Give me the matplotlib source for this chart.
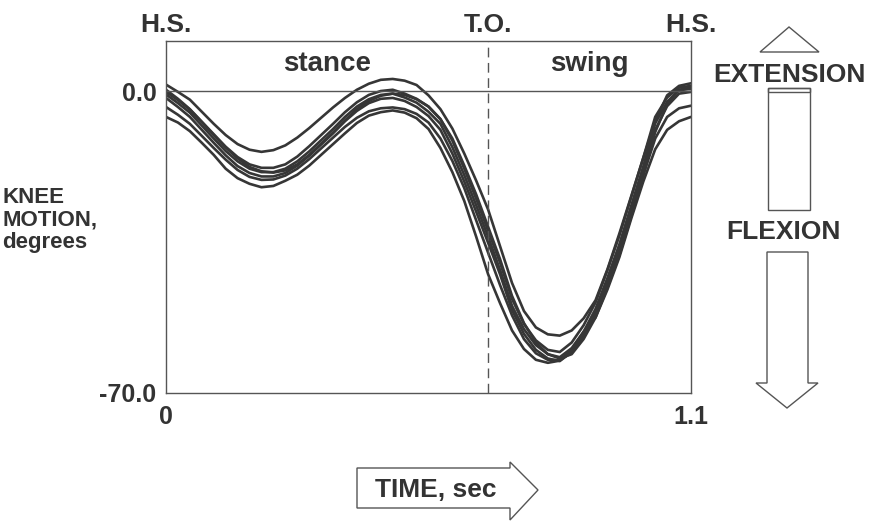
import numpy as np
import matplotlib
matplotlib.use("Agg")
import matplotlib.pyplot as plt
from matplotlib.patches import Polygon, Rectangle

plt.rcParams['font.family'] = ['Liberation Sans', 'DejaVu Sans']

# knee angle (degrees) sampled every 0.025 s over one gait cycle
time = [round(0.025 * i, 3) for i in range(45)]

trial_a = [1.5, -0.2, -2.0, -4.8, -7.6, -10.2, -12.3, -13.6, -14.1, -13.7, -12.6, -10.8,
           -8.6, -6.2, -3.8, -1.6, 0.3, 1.7, 2.6, 2.8, 2.4, 1.4, -1.0, -4.2, -8.7, -14.5,
           -20.8, -27.5, -36.0, -44.5, -51.0, -54.8, -56.4, -56.7, -55.5, -52.7, -48.5,
           -41.3, -33.0, -24.3, -15.5, -7.0, -1.0, 1.2, 1.8]
trial_b = [-6.0, -7.3, -9.3, -12.0, -14.8, -18.0, -20.2, -21.5, -22.3, -22.0, -20.8, -19.4,
           -17.3, -14.8, -12.3, -9.8, -7.4, -5.7, -4.9, -4.5, -5.0, -6.3, -8.8, -13.2, -18.8,
           -25.5, -33.8, -42.5, -49.2, -55.5, -59.8, -62.3, -63.0, -62.5, -60.0, -55.8,
           -52.5, -46.0, -38.5, -29.5, -21.0, -13.5, -9.0, -7.0, -6.0]
trial_c = [-3.7, -5.5, -7.6, -10.4, -13.2, -15.9, -18.3, -19.9, -20.6, -20.5, -19.6, -18.0,
           -15.8, -13.3, -10.8, -8.3, -6.2, -4.7, -4.0, -3.8, -4.2, -5.3, -7.3, -11.0, -16.2,
           -22.5, -30.0, -37.5, -45.0, -52.0, -57.5, -60.8, -62.3, -62.4, -60.6, -56.8,
           -51.8, -45.0, -37.3, -28.5, -19.5, -11.0, -6.0, -4.0, -3.4]
trial_d = [0.3, -1.8, -4.2, -7.1, -10.0, -12.9, -15.3, -17.0, -17.8, -17.8, -17.0, -15.2,
           -12.8, -10.2, -7.6, -4.9, -2.6, -0.9, 0.0, 0.3, -0.6, -1.8, -3.6, -6.5, -11.5,
           -18.0, -25.0, -32.4, -39.8, -48.2, -54.0, -57.8, -60.0, -60.5, -58.3, -54.3,
           -49.0, -41.5, -33.5, -24.5, -15.5, -6.0, -1.5, 0.8, 1.2]
trial_e = [-0.8, -2.8, -5.0, -8.0, -11.0, -13.9, -16.3, -18.0, -18.8, -18.8, -18.0, -16.3,
           -14.0, -11.4, -8.8, -6.0, -3.6, -1.9, -0.9, -0.6, -1.5, -2.7, -4.8, -7.6, -13.0,
           -19.5, -26.5, -33.8, -41.5, -49.8, -55.2, -58.9, -61.0, -61.7, -59.6, -55.8,
           -50.5, -43.3, -35.5, -26.5, -17.5, -7.5, -2.5, 0.2, 0.5]
trial_f = [-1.6, -3.7, -6.0, -9.0, -12.0, -14.9, -17.4, -19.0, -19.8, -19.8, -19.0, -17.3,
           -15.0, -12.4, -9.8, -7.0, -4.6, -2.8, -1.8, -1.6, -2.3, -3.7, -5.8, -9.0, -14.5,
           -21.0, -28.0, -35.2, -42.5, -50.8, -56.3, -60.0, -62.0, -62.6, -60.5, -56.7,
           -51.5, -44.5, -36.8, -28.0, -19.0, -9.0, -3.5, -0.6, -0.2]
trial_g = [-0.2, -2.1, -4.3, -7.2, -10.2, -13.1, -15.6, -17.6, -18.6, -18.9, -18.4, -17.0,
           -14.8, -12.2, -9.6, -6.8, -4.2, -2.3, -1.1, -0.6, -0.9, -1.9, -3.6, -6.5, -11.0,
           -17.3, -24.0, -31.5, -39.0, -47.5, -53.8, -58.3, -61.0, -62.0, -61.0, -57.5,
           -52.5, -45.5, -38.0, -29.0, -19.5, -9.5, -3.0, 0.3, 0.8]
trials = [trial_a, trial_b, trial_c, trial_d, trial_e, trial_f, trial_g]

toe_off = 0.674
cycle_end = 1.1

W, H = 877, 525
ink = '#333333'
edge = '#555555'

fig = plt.figure(figsize=(W / 100, H / 100), dpi=100)
ax = fig.add_axes([166 / W, 1 - 393 / H, (691 - 166) / W, (393 - 41) / H])

for tr in trials:
    ax.plot(time, tr, color='#363636', lw=1.9, solid_capstyle='round',
            solid_joinstyle='round')

ax.axhline(0, color=edge, lw=1.0)
ax.axvline(toe_off, color=edge, lw=1.0, ls=(0, (7, 4)))

ax.set_xlim(0, cycle_end)
ax.set_ylim(-70, 11.6)
ax.set_xticks([0, cycle_end])
ax.set_xticklabels(['0', '1.1'])
ax.set_yticks([0, -70])
ax.set_yticklabels(['0.0', '-70.0'])
ax.tick_params(length=0, labelsize=18, colors=ink)
ax.tick_params(axis='x', pad=9)
ax.tick_params(axis='y', pad=7)
for lab in ax.get_xticklabels() + ax.get_yticklabels():
    lab.set_fontweight('bold')
for s in ax.spines.values():
    s.set_color(edge)
    s.set_linewidth(1.0)

bold = dict(fontweight='bold', color=ink)

# event labels above the plot and phase names inside it
xt = ax.get_xaxis_transform()
ax.text(0, 1.012, 'H.S.', transform=xt, ha='center', va='bottom', fontsize=19, **bold)
ax.text(toe_off, 1.012, 'T.O.', transform=xt, ha='center', va='bottom', fontsize=19, **bold)
ax.text(cycle_end, 1.012, 'H.S.', transform=xt, ha='center', va='bottom', fontsize=19, **bold)
ax.text(toe_off / 2, 6.3, 'stance', ha='center', va='center', fontsize=20, **bold)
ax.text((toe_off + cycle_end) / 2, 6.3, 'swing', ha='center', va='center',
        fontsize=20, **bold)


def px(x, y):
    return (x / W, 1 - y / H)


fig.text(*px(2, 220), 'KNEE\nMOTION,\ndegrees', ha='left', va='center', fontsize=16,
         linespacing=1.12, **bold)

# extension arrow (up)
fig.add_artist(Polygon([px(760, 52), px(789, 27), px(819, 52)], closed=True,
                       transform=fig.transFigure, fill=False, ec=edge, lw=1.0))
fig.text(*px(789, 75), 'EXTENSION', ha='center', va='center', fontsize=19, **bold)
fig.add_artist(Rectangle(px(768, 210), 42 / W, 122 / H, transform=fig.transFigure,
                         fill=False, ec=edge, lw=1.0))
fig.add_artist(Rectangle(px(768, 92), 42 / W, 4 / H, transform=fig.transFigure,
                         fill=False, ec=edge, lw=1.0))

# flexion arrow (down)
fig.text(*px(783, 232), 'FLEXION', ha='center', va='center', fontsize=19, **bold)
fig.add_artist(Polygon([px(767, 252), px(808, 252), px(808, 383), px(818, 383),
                        px(787, 408), px(756, 383), px(767, 383)], closed=True,
                       transform=fig.transFigure, fill=False, ec=edge, lw=1.0))

# time arrow (right)
fig.add_artist(Polygon([px(357, 468), px(510, 468), px(510, 462), px(538, 490),
                        px(510, 520), px(510, 508), px(357, 508)], closed=True,
                       transform=fig.transFigure, fill=False, ec=edge, lw=1.0))
fig.text(*px(436, 490), 'TIME, sec', ha='center', va='center', fontsize=19, **bold)

fig.savefig('out.png', dpi=100)
